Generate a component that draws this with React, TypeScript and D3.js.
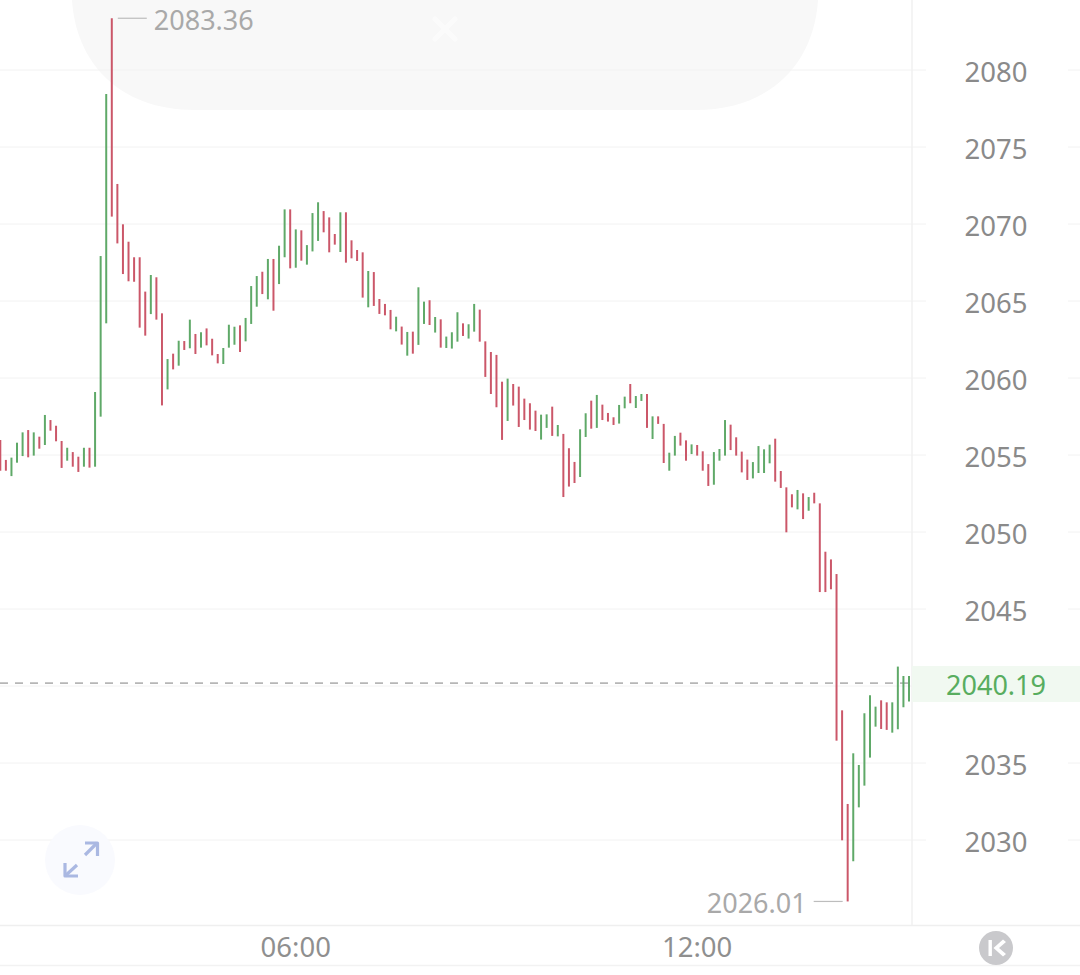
import React from "react";
import * as d3 from "d3";

const highs = [
  2055.97,2054.68,2054.83,2055.80,2056.47,2056.62,2056.47,2056.19,2057.60,2057.27,
  2056.90,2055.91,2055.47,2055.19,2054.89,2055.47,2055.47,2059.09,2067.92,2078.44,
  2083.36,2072.60,2069.98,2068.85,2067.84,2067.84,2065.61,2066.69,2066.54,2064.20,
  2061.23,2061.58,2062.42,2062.40,2063.79,2062.86,2062.97,2063.22,2062.55,2061.56,
  2061.95,2063.46,2063.33,2063.42,2063.90,2065.97,2066.62,2066.90,2067.73,2067.73,
  2068.59,2070.95,2070.95,2069.65,2069.59,2068.63,2070.71,2071.41,2070.84,2070.43,
  2069.35,2070.76,2070.76,2068.94,2068.31,2068.16,2066.95,2066.88,2065.13,2064.81,
  2064.42,2063.98,2063.34,2062.99,2063.01,2065.89,2064.96,2065.05,2063.96,2063.81,
  2062.69,2062.97,2064.27,2063.55,2063.49,2064.81,2064.44,2062.38,2061.69,2061.50,
  2059.76,2059.96,2059.61,2059.44,2058.66,2058.36,2057.88,2057.62,2057.64,2058.14,
  2056.95,2056.37,2055.44,2054.55,2056.67,2057.71,2058.53,2058.90,2058.27,2057.73,
  2057.45,2058.25,2058.79,2059.61,2058.83,2058.96,2058.96,2057.51,2057.51,2057.02,
  2055.15,2056.24,2056.45,2055.95,2055.69,2055.65,2055.24,2054.41,2055.19,2055.39,
  2057.27,2056.97,2056.15,2055.22,2054.70,2054.54,2055.58,2055.37,2055.67,2056.06,
  2053.96,2052.90,2052.45,2052.73,2052.51,2052.27,2052.55,2051.86,2048.72,2048.22,
  2047.27,2038.42,2032.34,2035.63,2034.87,2038.23,2039.40,2038.66,2039.07,2038.94,
  2038.94,2041.26,2040.65,2040.65,
];

const lows = [
  2053.98,2053.98,2053.63,2054.50,2054.93,2054.85,2054.96,2055.41,2055.65,2056.58,
  2055.89,2054.16,2054.63,2054.24,2053.90,2054.24,2054.18,2054.24,2057.49,2063.55,
  2070.48,2068.74,2066.75,2066.28,2066.25,2063.27,2062.75,2064.15,2063.79,2058.22,
  2059.26,2060.56,2060.80,2061.82,2061.93,2061.56,2061.97,2062.12,2061.47,2060.95,
  2060.91,2061.97,2062.16,2061.69,2062.38,2063.51,2064.63,2065.45,2065.11,2064.37,
  2066.10,2067.84,2067.12,2067.16,2067.62,2067.36,2068.22,2068.90,2069.46,2068.16,
  2068.66,2068.18,2067.49,2067.77,2067.60,2065.22,2064.59,2064.68,2064.16,2064.07,
  2063.16,2063.03,2062.17,2061.45,2061.58,2062.15,2063.51,2063.44,2062.95,2061.97,
  2061.95,2061.91,2062.36,2062.73,2062.56,2063.01,2062.36,2060.07,2058.96,2058.10,
  2055.98,2057.21,2058.21,2056.82,2057.27,2056.65,2056.56,2056.00,2056.76,2056.24,
  2056.21,2052.27,2052.95,2053.18,2053.57,2056.17,2056.71,2056.76,2057.27,2057.17,
  2056.95,2057.04,2058.03,2058.36,2058.05,2058.51,2056.76,2056.04,2057.02,2054.48,
  2053.98,2054.96,2055.61,2054.63,2055.06,2054.96,2053.98,2052.99,2053.07,2054.63,
  2054.96,2055.32,2054.96,2053.87,2053.38,2053.48,2053.83,2053.83,2054.46,2053.27,
  2052.86,2049.98,2051.60,2051.47,2050.84,2051.38,2051.86,2046.10,2046.10,2046.28,
  2036.45,2029.98,2026.01,2028.62,2032.12,2033.53,2035.35,2037.36,2037.21,2037.15,
  2036.97,2037.19,2038.62,2038.99,
];

// r = falling bar, g = rising bar
const dirList = [
  "r","r","g","g","g","r","g","r","g","r","r","r","g","r","r","g","r","g","g","g",
  "r","r","r","r","r","r","r","g","r","r","g","r","g","r","g","r","g","r","r","r",
  "g","g","g","r","g","g","g","r","g","r","g","g","r","g","r","g","g","g","r","r",
  "r","g","r","r","r","r","g","r","r","r","r","g","r","g","r","g","g","r","g","r",
  "g","g","g","r","g","g","r","r","r","r","r","g","r","r","r","r","r","g","g","r",
  "g","r","r","r","g","g","r","g","r","r","r","g","g","r","g","g","r","g","r","r",
  "g","g","r","r","g","r","r","r","g","g","g","r","r","r","r","g","g","g","g","r",
  "r","r","r","g","r","g","r","r","r","r","r","r","r","g","g","g","g","g","r","r",
  "g","g","g","g",
];

const yTicks = [2080, 2075, 2070, 2065, 2060, 2055, 2050, 2045, 2035, 2030];
const gridTicks = [2080, 2075, 2070, 2065, 2060, 2055, 2050, 2045, 2040, 2035, 2030];
const timeTicks = [
  { index: 53, label: "06:00" },
  { index: 125, label: "12:00" },
];
const lastPrice = 2040.19;
const maxPrice = 2083.36;
const minPrice = 2026.01;
const maxIndex = 20;
const minIndex = 152;

const RED = "#cb5769";
const GREEN = "#5fa968";
const FONT = "'Noto Sans', sans-serif";

export default function App() {
  const x = d3.scaleLinear().domain([0, highs.length - 1]).range([0.3, 909]);
  const y = d3.scaleLinear().domain([2030, 2080]).range([840, 70]);
  const pillPath = d3.path();
  pillPath.moveTo(72, 0);
  pillPath.bezierCurveTo(76, 62, 118, 110, 195, 110);
  pillPath.lineTo(695, 110);
  pillPath.bezierCurveTo(772, 110, 814, 62, 818, 0);
  pillPath.closePath();
  return (
    <svg
      width={1080}
      height={975}
      viewBox="0 0 1080 975"
      style={{ position: "fixed", left: 0, top: 0, background: "#fff", fontFamily: FONT }}
    >
      <path d={pillPath.toString()} fill="#f8f8f8" />
      <g stroke="#ffffff" strokeWidth={5} opacity={0.5} strokeLinecap="round">
        <line x1={435} y1={19} x2={455} y2={39} />
        <line x1={455} y1={19} x2={435} y2={39} />
      </g>

      {gridTicks.map((t) => (
        <g key={t} stroke="#f2f2f2" strokeWidth={1}>
          <line x1={0} x2={926} y1={y(t)} y2={y(t)} />
          <line x1={1068} x2={1080} y1={y(t)} y2={y(t)} />
        </g>
      ))}
      <line x1={912} x2={912} y1={0} y2={925} stroke="#f1f1f1" strokeWidth={1.5} />
      <line x1={0} x2={1080} y1={925.5} y2={925.5} stroke="#efefef" strokeWidth={1.5} />
      <line x1={0} x2={1080} y1={965.5} y2={965.5} stroke="#f2f2f2" strokeWidth={1.5} />

      <rect x={912} y={666} width={168} height={36} fill="#f1f9f1" />
      <line
        x1={0}
        x2={912}
        y1={y(lastPrice)}
        y2={y(lastPrice)}
        stroke="#b6b6b6"
        strokeWidth={1.8}
        strokeDasharray="8 7"
      />

      {highs.map((h, i) => (
        <line
          key={i}
          x1={x(i)}
          x2={x(i)}
          y1={y(h)}
          y2={y(lows[i])}
          stroke={dirList[i] === "r" ? RED : GREEN}
          strokeWidth={2}
        />
      ))}

      {yTicks.map((t) => (
        <text key={t} x={996} y={y(t) + 2} dy="0.36em" textAnchor="middle" fontSize={27.5} fill="#8a8a8a">
          {t}
        </text>
      ))}
      <text x={996} y={y(lastPrice) + 2} dy="0.36em" textAnchor="middle" fontSize={27} fill="#58ad5f">
        {lastPrice.toFixed(2)}
      </text>

      {timeTicks.map((t) => (
        <text key={t.label} x={x(t.index)} y={947} dy="0.36em" textAnchor="middle" fontSize={27.5} fill="#8f8f8f">
          {t.label}
        </text>
      ))}

      <line x1={x(maxIndex) + 6} x2={x(maxIndex) + 35} y1={y(maxPrice)} y2={y(maxPrice)} stroke="#bdbdbd" strokeWidth={1.2} />
      <text x={x(maxIndex) + 42} y={y(maxPrice) + 2} dy="0.36em" fontSize={27} fill="#a9a9a9">
        {maxPrice.toFixed(2)}
      </text>
      <line x1={x(minIndex) - 34} x2={x(minIndex) - 5} y1={y(minPrice)} y2={y(minPrice)} stroke="#bdbdbd" strokeWidth={1.2} />
      <text x={x(minIndex) - 41} y={y(minPrice) + 2} dy="0.36em" textAnchor="end" fontSize={27} fill="#a9a9a9">
        {minPrice.toFixed(2)}
      </text>

      <circle cx={80} cy={860} r={35} fill="#f9fafe" />
      <g fill="none" stroke="#aab8e2" strokeWidth={3.2} strokeLinejoin="round">
        <path d="M85 855 L97 843" />
        <path d="M85 843 H97.5 V856" />
        <path d="M77 865 L65 876" />
        <path d="M65 863 V876 H78" />
      </g>

      <circle cx={996} cy={948} r={17} fill="#c9c9cc" />
      <g fill="#ffffff">
        <rect x={988.5} y={940} width={3.4} height={16} />
        <path d="M1003 939.5 L1006 942 L999 948 L1006 954 L1003 956.5 L993.5 948 Z" />
      </g>
    </svg>
  );
}
